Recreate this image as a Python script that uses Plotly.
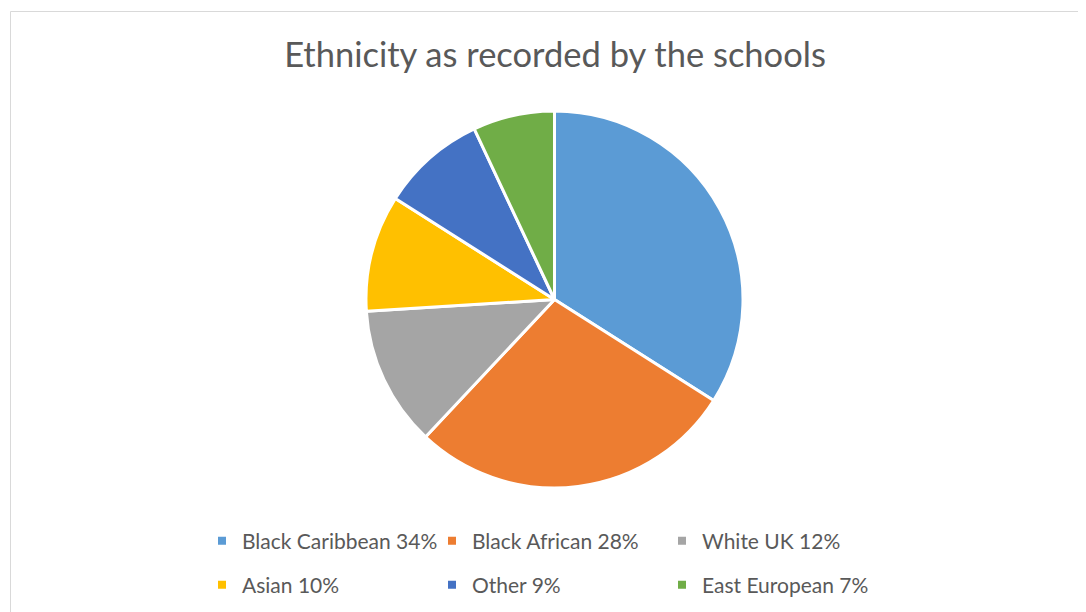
import plotly.graph_objects as go

categories = ["Black Caribbean", "Black African", "White UK", "Asian", "Other", "East European"]
values = [34, 28, 12, 10, 9, 7]
colors = ["#5B9BD5", "#ED7D31", "#A5A5A5", "#FFC000", "#4472C4", "#70AD47"]
legend_labels = [f"{c} {v}%" for c, v in zip(categories, values)]
title_text = "Ethnicity as recorded by the schools"

W, H = 1086, 612
OFF = 8  # page body margin
FONT = "Lato"
TXT = "#595959"


def px(x):
    return (x - OFF) / W


def py(y):
    return 1 - (y - OFF) / H


fig = go.Figure()
fig.add_trace(go.Pie(
    labels=categories, values=values, sort=False, direction="clockwise", rotation=0,
    marker=dict(colors=colors, line=dict(color="white", width=3)),
    textinfo="none", hoverinfo="label+percent", showlegend=False,
    domain=dict(x=[px(366), px(743)], y=[py(488), py(111)]),
))

# legend entries (two rows of three)
for i, (lab, col) in enumerate(zip(legend_labels, colors)):
    fig.add_trace(go.Scatter(
        x=[None], y=[None], mode="markers", name=lab,
        marker=dict(symbol="square", size=8, color=col),
        legend="legend" if i < 3 else "legend2", hoverinfo="skip",
    ))

leg_common = dict(orientation="h", entrywidth=185, entrywidthmode="pixels",
                  font=dict(family=FONT, size=21, color=TXT), bgcolor="rgba(0,0,0,0)",
                  xanchor="left", yanchor="middle", itemsizing="trace")

fig.update_layout(
    width=W, height=H, autosize=False,
    margin=dict(l=0, r=0, t=0, b=0),
    paper_bgcolor="white", plot_bgcolor="white",
    xaxis=dict(visible=False), yaxis=dict(visible=False),
    title=dict(text=title_text, x=px(555), xanchor="center", y=py(55), yanchor="middle",
               font=dict(family=FONT, size=34.5, color=TXT)),
    legend=dict(x=px(202), y=py(541), **leg_common),
    legend2=dict(x=px(202), y=py(585), **leg_common),
    shapes=[dict(type="rect", xref="paper", yref="paper",
                 x0=px(10.5), x1=1.02, y0=-0.02, y1=py(11.5),
                 line=dict(color="#D9D9D9", width=1), fillcolor="rgba(0,0,0,0)", layer="below")],
)

fig.write_html("out.html")
